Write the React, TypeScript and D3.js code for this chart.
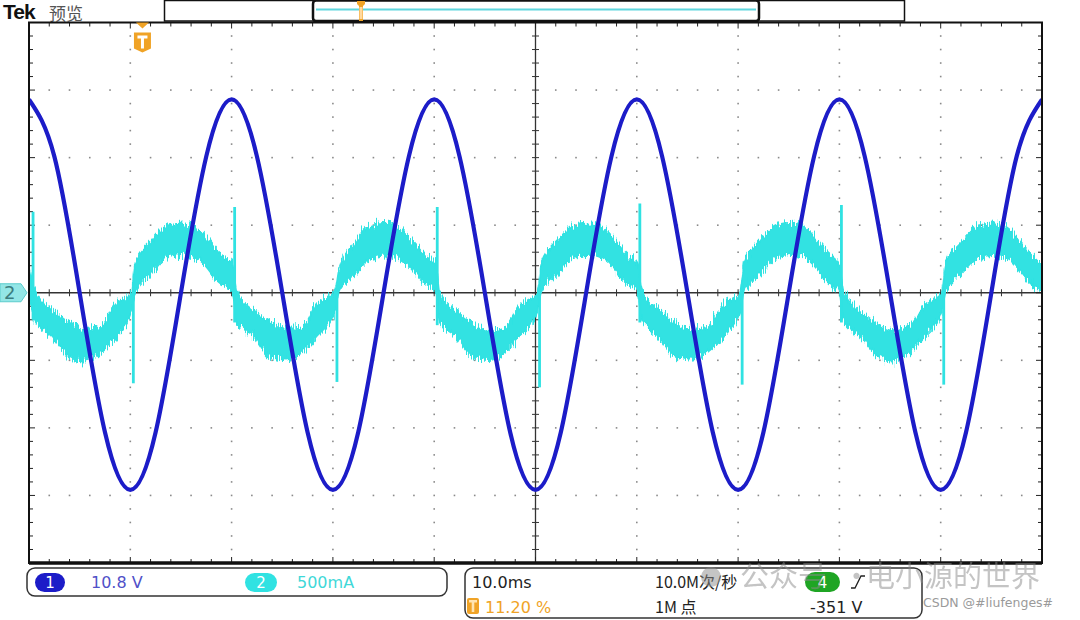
import React from 'react';
import * as d3 from 'd3';

// ---- Scope settings ----
const H_DIVS = 10;
const V_DIVS = 8;
const TIME_PER_DIV_MS = 10;
const CH1_VOLTS_PER_DIV = 10.8;
const CH2_MA_PER_DIV = 500;
const TRIGGER_POSITION_PCT = 11.2;

// ---- Channel 1 (voltage, V) ----
const CH1_TIME_MS = [0, 2.5, 5, 7.5, 10, 12.5, 15, 17.5, 20, 22.5, 25, 27.5, 30, 32.5, 35, 37.5, 40, 42.5, 45, 47.5, 50, 52.5, 55, 57.5, 60, 62.5, 65, 67.5, 70, 72.5, 75, 77.5, 80, 82.5, 85, 87.5, 90, 92.5, 95, 97.5, 100];
const CH1_VOLTS = [30.9, 21.8, 0, -22.3, -31.5, -22.3, 0, 21.8, 30.9, 21.8, 0, -22.3, -31.5, -22.3, 0, 21.8, 30.9, 21.8, 0, -22.3, -31.5, -22.3, 0, 21.8, 30.9, 21.8, 0, -22.3, -31.5, -22.3, 0, 21.8, 30.9, 21.8, 0, -22.3, -31.5, -22.3, 0, 21.8, 30.9];

// ---- Channel 2 (current, mA): noise band envelope ----
const CH2_TIME_MS = [0, 0.6, 2.2, 3.9, 5.5, 7.1, 8.5, 10.1, 10.5, 12.0, 13.7, 15.4, 17.0, 18.7, 20.1,
  20.5, 22.1, 23.8, 25.4, 27.0, 28.4, 30.2, 30.6, 32.1, 33.8, 35.5, 37.1, 38.8, 40.2,
  40.5, 42.1, 43.8, 45.4, 47.0, 48.4, 50.2, 50.6, 52.1, 53.8, 55.5, 57.1, 58.8, 60.1,
  60.5, 62.1, 63.8, 65.4, 67.0, 68.4, 70.2, 70.6, 72.1, 73.8, 75.5, 77.1, 78.8, 80.0,
  80.4, 82.0, 83.7, 85.3, 86.9, 88.3, 90.1, 90.5, 92.0, 93.7, 95.4, 97.0, 98.7, 100];
const CH2_UPPER_MA = [200, 10, -120, -225, -275, -250, -90, 5, 230, 375, 500, 515, 450, 300, 205,
  10, -130, -220, -265, -255, -85, 10, 170, 370, 505, 520, 445, 305, 210,
  5, -125, -230, -280, -255, -95, 0, 225, 380, 500, 515, 455, 300, 205,
  10, -120, -220, -275, -250, -90, 5, 230, 375, 505, 520, 450, 300, 205,
  10, -125, -225, -275, -250, -90, 5, 230, 375, 500, 515, 450, 300, 205];
const CH2_LOWER_MA = [0, -210, -320, -470, -510, -440, -335, -140, 5, 135, 260, 280, 230, 80, 0,
  -215, -315, -475, -495, -440, -330, -145, 5, 130, 255, 275, 225, 85, 0,
  -215, -320, -470, -500, -445, -330, -140, 10, 135, 265, 280, 230, 80, 0,
  -210, -320, -475, -505, -440, -335, -145, 5, 135, 260, 280, 230, 80, 0,
  -215, -320, -470, -510, -440, -335, -140, 5, 135, 260, 280, 230, 80, 0];

// ---- Channel 2 switching spikes ----
const CH2_SPIKE_TIME_MS = [0.4, 10.3, 20.3, 30.4, 40.3, 50.4, 60.3, 70.4, 80.2, 90.3];
const CH2_SPIKE_HIGH_MA = [600, 80, 635, 60, 635, 60, 660, 60, 650, 60];
const CH2_SPIKE_LOW_MA = [-200, -670, -220, -660, -240, -700, -220, -680, -220, -680];

// ---- Readouts ----
const CH1_LABEL = '10.8 V';
const CH2_LABEL = '500mA';
const TIMEBASE_LABEL = '10.0ms';
const TRIGGER_LABEL = '11.20 %';
const SAMPLE_RATE_LABEL = '10.0M次/秒';
const RECORD_LABEL = '1M 点';
const TRIGGER_LEVEL_LABEL = '-351 V';
const WATERMARK_PARTS = ['公众号', '·', '电小源的世界'];
const CREDIT = 'CSDN @#liufenges#';

const BLUE = '#1c1cc8';
const CYAN = '#30e2e2';
const ORANGE = '#f0a326';
const FONT = '"DejaVu Sans", sans-serif';
const CJK = '"Noto Sans CJK SC", "DejaVu Sans", sans-serif';

const L = 29, R = 1042, T = 22.5, B = 563;

export default function App() {
  const x = d3.scaleLinear().domain([0, H_DIVS * TIME_PER_DIV_MS]).range([L, R]);
  const y1 = d3.scaleLinear().domain([-V_DIVS / 2 * CH1_VOLTS_PER_DIV, V_DIVS / 2 * CH1_VOLTS_PER_DIV]).range([B, T]);
  const y2 = d3.scaleLinear().domain([-V_DIVS / 2 * CH2_MA_PER_DIV, V_DIVS / 2 * CH2_MA_PER_DIV]).range([B, T]);
  const dx = d3.scaleLinear().domain([0, H_DIVS]).range([L, R]);
  const dy = d3.scaleLinear().domain([0, V_DIVS]).range([T, B]);

  const cx = dx(H_DIVS / 2);
  const cy = dy(V_DIVS / 2);

  const ch1Line = d3.line<number>()
    .x((_, i) => x(CH1_TIME_MS[i]))
    .y((v) => y1(v))
    .curve(d3.curveNatural)(CH1_VOLTS) || '';

  const ch2Area = d3.area<number>()
    .x((t) => x(t))
    .y0((_, i) => y2(CH2_LOWER_MA[i]))
    .y1((_, i) => y2(CH2_UPPER_MA[i]))
    .curve(d3.curveMonotoneX)(CH2_TIME_MS) || '';

  // grid dots
  const dots: JSX.Element[] = [];
  const minorV = d3.range(0, V_DIVS * 5 + 1).map((k) => k / 5);
  const minorH = d3.range(0, H_DIVS * 5 + 1).map((k) => k / 5);
  for (let i = 1; i < H_DIVS; i++) {
    if (i === H_DIVS / 2) continue;
    minorV.forEach((v, k) => {
      if (k === 0 || k === minorV.length - 1) return;
      dots.push(<rect key={`v${i}-${k}`} x={dx(i) - 0.8} y={dy(v) - 0.8} width={1.6} height={1.6} fill="#8a8a8a" />);
    });
  }
  for (let j = 1; j < V_DIVS; j++) {
    if (j === V_DIVS / 2) continue;
    minorH.forEach((h, k) => {
      if (k === 0 || k === minorH.length - 1 || k % 5 === 0) return;
      dots.push(<rect key={`h${j}-${k}`} x={dx(h) - 0.8} y={dy(j) - 0.8} width={1.6} height={1.6} fill="#8a8a8a" />);
    });
  }

  // ticks on center axes and frame
  const ticks: JSX.Element[] = [];
  minorH.forEach((h, k) => {
    if (k === 0 || k === minorH.length - 1) return;
    const major = k % 5 === 0;
    const px = dx(h);
    ticks.push(<line key={`ct${k}`} x1={px} x2={px} y1={cy - 3.5} y2={cy + 3.5} stroke="#333" strokeWidth={1} />);
    ticks.push(<line key={`tt${k}`} x1={px} x2={px} y1={T} y2={T + (major ? 6 : 4)} stroke="#222" strokeWidth={1} />);
    ticks.push(<line key={`bt${k}`} x1={px} x2={px} y1={B} y2={B - (major ? 6 : 4)} stroke="#222" strokeWidth={1} />);
  });
  minorV.forEach((v, k) => {
    if (k === 0 || k === minorV.length - 1) return;
    const major = k % 5 === 0;
    const py = dy(v);
    ticks.push(<line key={`cv${k}`} x1={cx - 3.5} x2={cx + 3.5} y1={py} y2={py} stroke="#333" strokeWidth={1} />);
    ticks.push(<line key={`lt${k}`} x1={L} x2={L + (major ? 6 : 4)} y1={py} y2={py} stroke="#222" strokeWidth={1} />);
    ticks.push(<line key={`rt${k}`} x1={R} x2={R - (major ? 6 : 4)} y1={py} y2={py} stroke="#222" strokeWidth={1} />);
  });

  const trigX = dx(H_DIVS * TRIGGER_POSITION_PCT / 100);

  return (
    <svg width={1080} height={620} style={{ position: 'absolute', left: 0, top: 0, background: '#fff' }}
      xmlns="http://www.w3.org/2000/svg">
      <defs>
        <clipPath id="plotClip">
          <rect x={L} y={T} width={R - L} height={B - T} />
        </clipPath>
        <filter id="fuzz" filterUnits="userSpaceOnUse" x={L - 10} y={T} width={R - L + 20} height={B - T}>
          <feTurbulence type="fractalNoise" baseFrequency="0.9 0.06" numOctaves={2} seed={4} result="n" />
          <feColorMatrix in="n" type="matrix" values="0 0 0 0 0.5  0 1 0 0 0  0 0 0 0 0  0 0 0 0 1" result="m" />
          <feDisplacementMap in="SourceGraphic" in2="m" scale={18} xChannelSelector="R" yChannelSelector="G" />
        </filter>
      </defs>
      <rect x={0} y={0} width={1080} height={620} fill="#fff" />

      {/* header */}
      <text x={3} y={19} fontFamily='"Liberation Sans", Arial, sans-serif' fontWeight="bold" fontSize={21} letterSpacing={-1} fill="#111">Tek</text>
      <text x={49} y={20} fontFamily={CJK} fontSize={17} fill="#555">预览</text>

      {/* record bar */}
      <rect x={164.5} y={0.5} width={740} height={20.5} fill="#fff" stroke="#111" strokeWidth={1.5} />
      <path d={`M316,0.5 L756,0.5 Q759,0.5 759,4 L759,18 Q759,21 756,21 L316,21 Q313,21 313,18 L313,4 Q313,0.5 316,0.5 Z`}
        fill="#fff" stroke="#111" strokeWidth={2.5} />
      <line x1={316} x2={756} y1={9.5} y2={9.5} stroke="#5fd6de" strokeWidth={2} />
      <path d="M357,1 L365,1 L365,4 L363,6 L363,21 L359,21 L359,6 L357,4 Z" fill={ORANGE} />
      <rect x={359.5} y={7} width={3} height={12} fill="#ffd9a0" />

      {/* graticule */}
      {dots}
      <line x1={L} x2={R} y1={cy} y2={cy} stroke="#333" strokeWidth={1.3} />
      <line x1={cx} x2={cx} y1={T} y2={B} stroke="#333" strokeWidth={1.3} />
      {ticks}

      {/* waveforms */}
      <g clipPath="url(#plotClip)">
        <g filter="url(#fuzz)">
          <path d={ch2Area} fill={CYAN} stroke={CYAN} strokeWidth={1.5} />
        </g>
        {CH2_SPIKE_TIME_MS.map((t, i) => (
          <line key={`sp${i}`} x1={x(t)} x2={x(t)} y1={y2(CH2_SPIKE_HIGH_MA[i])} y2={y2(CH2_SPIKE_LOW_MA[i])}
            stroke={CYAN} strokeWidth={2.8} />
        ))}
        <path d={ch1Line} fill="none" stroke={BLUE} strokeWidth={4.2} />
      </g>

      {/* frame */}
      <rect x={L} y={T} width={R - L} height={B - T} fill="none" stroke="#111" strokeWidth={2} />
      <line x1={L} x2={R} y1={B} y2={B} stroke="#111" strokeWidth={3.5} />

      {/* trigger position marker */}
      <path d={`M${trigX - 6.5},${T} L${trigX + 6.5},${T} L${trigX},${T + 6} Z`} fill={ORANGE} />
      <path d={`M${trigX - 8.5},${T + 10} L${trigX + 8.5},${T + 10} L${trigX + 8.5},${T + 26} L${trigX},${T + 30} L${trigX - 8.5},${T + 26} Z`} fill={ORANGE} />
      <path d={`M${trigX - 5},${T + 13} L${trigX + 5},${T + 13} L${trigX + 5},${T + 16} L${trigX + 1.5},${T + 16} L${trigX + 1.5},${T + 26} L${trigX - 1.5},${T + 26} L${trigX - 1.5},${T + 16} L${trigX - 5},${T + 16} Z`} fill="#fff" />

      {/* channel 2 ground marker */}
      <path d={`M0,${cy - 9} L21,${cy - 9} L27,${cy} L21,${cy + 9} L0,${cy + 9} Z`} fill="#93e6e6" stroke="#5ccccc" strokeWidth={1} />
      <text x={4} y={cy + 6.5} fontFamily={FONT} fontSize={18} fill="#3b7d80">2</text>

      {/* bottom readout box 1 */}
      <rect x={27} y={568} width={420} height={28} rx={8} fill="#fff" stroke="#333" strokeWidth={1.5} />
      <rect x={35} y={573} width={30} height={19} rx={9.5} fill={BLUE} />
      <text x={50} y={588} textAnchor="middle" fontFamily={FONT} fontSize={15} fill="#fff">1</text>
      <text x={91} y={588} fontFamily={FONT} fontSize={16} fill="#5050c8">{CH1_LABEL}</text>
      <rect x={245} y={573} width={32} height={19} rx={9.5} fill={CYAN} />
      <text x={261} y={588} textAnchor="middle" fontFamily={FONT} fontSize={15} fill="#fff">2</text>
      <text x={297} y={588} fontFamily={FONT} fontSize={16} fill="#3fd8d8">{CH2_LABEL}</text>

      {/* bottom readout box 2 */}
      <rect x={465} y={568} width={457} height={50} rx={8} fill="#fff" stroke="#333" strokeWidth={1.5} />
      <text x={472} y={588} fontFamily={FONT} fontSize={16} fill="#222">{TIMEBASE_LABEL}</text>
      <rect x={467} y={598} width={12} height={16} rx={2} fill={ORANGE} />
      <path d="M469,600 L477,600 L477,602.5 L474.3,602.5 L474.3,612 L471.7,612 L471.7,602.5 L469,602.5 Z" fill="#ffe3b0" />
      <text x={485} y={613} fontFamily={FONT} fontSize={16} fill={ORANGE}>{TRIGGER_LABEL}</text>
      <text x={655} y={588} fontFamily={CJK} fontSize={16} fill="#222">{SAMPLE_RATE_LABEL}</text>
      <text x={655} y={613} fontFamily={CJK} fontSize={16} fill="#222">{RECORD_LABEL}</text>
      <rect x={805} y={572} width={35} height={20} rx={10} fill="#1fa524" />
      <text x={822.5} y={588} textAnchor="middle" fontFamily={FONT} fontSize={15} fill="#fff">4</text>
      <path d="M851,588 L855,588 L861,576 L865,576" fill="none" stroke="#222" strokeWidth={1.3} />
      <text x={810} y={613} fontFamily={FONT} fontSize={16} fill="#222">{TRIGGER_LEVEL_LABEL}</text>

      {/* watermark */}
      <g opacity={0.5}>
        <circle cx={711} cy={577} r={10} fill="#8c8c8c" />
        <text x={740} y={587} fontFamily={CJK} fontSize={29} fill="#8a8a8a">{WATERMARK_PARTS[0]}</text>
        <text x={842} y={587} fontFamily={CJK} fontSize={29} fill="#8a8a8a">{WATERMARK_PARTS[1]}</text>
        <text x={866} y={587} fontFamily={CJK} fontSize={29} fill="#8a8a8a">{WATERMARK_PARTS[2]}</text>
      </g>
      <text x={923} y={607} fontFamily={FONT} fontSize={12.5} fill="#9a9a9a">{CREDIT}</text>
    </svg>
  );
}
